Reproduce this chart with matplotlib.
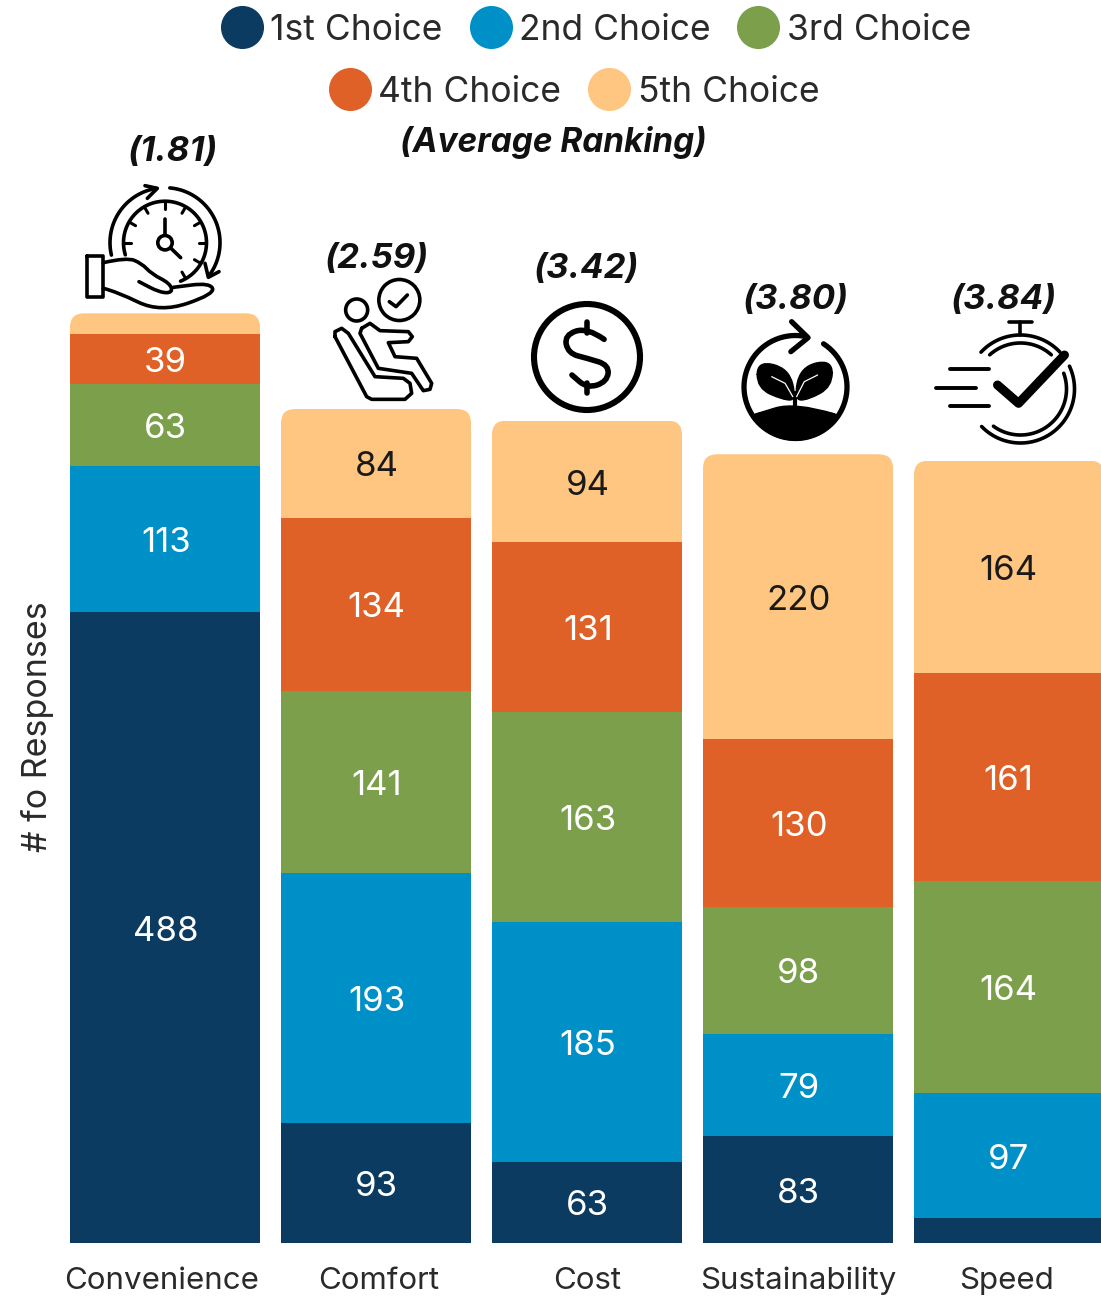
import numpy as np
import matplotlib
matplotlib.use("Agg")
import matplotlib.pyplot as plt
from matplotlib.lines import Line2D
from matplotlib.patches import Circle, FancyBboxPatch, PathPatch
from matplotlib.path import Path
from matplotlib.transforms import IdentityTransform, ScaledTranslation

plt.rcParams['font.family'] = ['Inter', 'DejaVu Sans']

categories = ['Convenience', 'Comfort', 'Cost', 'Sustainability', 'Speed']
choices = ['1st Choice', '2nd Choice', '3rd Choice', '4th Choice', '5th Choice']
first = [488, 93, 63, 83, 19]
second = [113, 193, 185, 79, 97]
third = [63, 141, 163, 98, 164]
fourth = [39, 134, 131, 130, 161]
fifth = [16, 84, 94, 220, 164]
rankings = ['(1.81)', '(2.59)', '(3.42)', '(3.80)', '(3.84)']

colors = ['#0B3B60', '#0090C8', '#7C9F4C', '#DF6128', '#FEC680']
W, H = 1101, 1299
UNIT = 1.293  # px per response
STEP = 211    # px between bars


def smooth(pts, closed=False):
    # quadratic spline through the midpoints, only for the icon outlines
    pts = np.array(pts, float)
    if closed:
        mids = (pts + np.roll(pts, -1, axis=0)) / 2
        verts = [mids[-1]]
        for p, m in zip(pts, mids):
            verts += [p, m]
    else:
        verts = [pts[0]]
        for i in range(1, len(pts) - 1):
            verts += [pts[i], (pts[i] + pts[i + 1]) / 2]
        verts += [pts[-1], pts[-1]]
    codes = [Path.MOVETO] + [Path.CURVE3] * (len(verts) - 1)
    return Path(verts, codes)


def z1(pts):
    return [(70 + x / 3, 120 + y / 3) for x, y in pts]


def z2(pts):
    return [(500 + x / 2.613, 240 + y / 3) for x, y in pts]


fig = plt.figure(figsize=(W / 100, H / 100), dpi=100)
ax = fig.add_axes([60 / W, (H - 1243) / H, (W - 60) / W, 1243 / H])
ax.set_xlim((60 - 165) / STEP, (W - 165) / STEP)
ax.set_ylim(0, 1243 / UNIT)
for s in ax.spines.values():
    s.set_visible(False)

x = np.arange(len(categories))
bottom = np.zeros(len(categories))
top_bars = None
for i, vals in enumerate([first, second, third, fourth, fifth]):
    bars = ax.bar(x, vals, bottom=bottom, width=190 / STEP, color=colors[i], linewidth=0)
    labels = [str(v) if v >= 30 else '' for v in vals]
    anns = ax.bar_label(bars, labels=labels, label_type='center', fontsize=25,
                        color='#1a1a1a' if i == 4 else 'white')
    for a in anns:
        a.xyann = (0.5, -3)
    bottom = bottom + np.array(vals)
    top_bars = bars

# round the top corners of each stack
fig.canvas.draw()
for b, total in zip(top_bars, bottom):
    x0, y1 = ax.transData.transform((b.get_x(), total))
    x1, y0 = ax.transData.transform((b.get_x() + b.get_width(), total - b.get_height()))
    clip = FancyBboxPatch((x0 + 14, y0 - 40), x1 - x0 - 28, y1 - y0 + 40 - 14,
                          boxstyle='round,pad=14,rounding_size=14',
                          transform=IdentityTransform())
    b.set_clip_path(clip)

ax.set_xticks(x)
ax.set_xticklabels(categories, fontsize=22.5, color='#2a2a2a')
ax.tick_params(axis='x', length=0, pad=17)
ax.tick_params(axis='y', length=0, labelleft=False)
for lab, dx in zip(ax.get_xticklabels(), [-3, 3, 0, 0, -2]):
    lab.set_transform(lab.get_transform() + ScaledTranslation(dx / 100, 0, fig.dpi_scale_trans))
ax.set_ylabel('# fo Responses', fontsize=24.5, color='#2a2a2a')
ax.yaxis.set_label_coords((54 - 60) / (W - 60), (1243 - 727) / 1243)

# legend, two centred rows
handles = [Line2D([], [], marker='o', linestyle='none', markersize=31, color=c, markeredgewidth=0)
           for c in colors]
leg_kw = dict(frameon=False, labelcolor='#2a2a2a', handlelength=1.2, handletextpad=0.2,
              columnspacing=0.75, borderpad=0, borderaxespad=0, loc='center',
              bbox_transform=fig.transFigure, prop={'size': 25.5})
leg1 = ax.legend(handles[:3], choices[:3], ncol=3, bbox_to_anchor=(596 / W, 1 - 30 / H), **leg_kw)
ax.add_artist(leg1)
ax.legend(handles[3:], choices[3:], ncol=2, bbox_to_anchor=(574 / W, 1 - 92 / H), **leg_kw)

# overlay in pixel coordinates for the rankings and icons
ov = fig.add_axes([0, 0, 1, 1], facecolor='none')
ov.set_xlim(0, W)
ov.set_ylim(H, 0)
ov.axis('off')

rank_x = [173, 377, 587, 796, 1004]
rank_y = [152, 259, 269, 300, 300]
for r, rx, ry in zip(rankings, rank_x, rank_y):
    ov.text(rx, ry, r, ha='center', va='center', fontsize=25, fontweight='bold', fontstyle='italic',
            color='#111111')
ov.text(553, 142, '(Average Ranking)', ha='center', va='center', fontsize=24, fontweight='bold',
        fontstyle='italic', color='#111111')


def line(pts, lw=2.6, color='black'):
    pts = np.array(pts)
    ov.plot(pts[:, 0], pts[:, 1], color=color, lw=lw, solid_capstyle='round', solid_joinstyle='round')


def arc(cx, cy, r, a1, a2, lw=2.6):
    t = np.radians(np.linspace(a1, a2, 80))
    line(np.c_[cx + r * np.cos(t), cy - r * np.sin(t)], lw)


def curve(pts, lw=2.6, closed=False, fill='none', ec='black'):
    ov.add_patch(PathPatch(smooth(pts, closed), fc=fill, ec=ec, lw=lw, capstyle='round', joinstyle='round'))


# clock in a hand
cx, cy = 165, 242.7
arc(cx, cy, 41.5, 197, -68)
arc(cx, cy, 55, 193, 99)
arc(cx, cy, 55, 85, -37)
line(z1([(225, 197), (262, 205), (232, 235)]))
line(z1([(405, 430), (415, 472), (447, 455)]))
for a in [180, 150, 120, 90, 60, 30, 0, -30, -60]:
    t = np.radians(a)
    line([(cx + 41 * np.cos(t), cy - 41 * np.sin(t)), (cx + 34 * np.cos(t), cy - 34 * np.sin(t))], 2.2)
line(z1([(285, 298), (285, 345)]))
line(z1([(303, 385), (332, 413)]))
ov.add_patch(Circle((cx, cy), 7.2, fc='none', ec='black', lw=2.6))
line(z1([(52, 408), (100, 408), (100, 530), (52, 530), (52, 408)]))
curve(z1([(100, 428), (170, 412), (215, 430), (245, 462), (300, 490), (308, 518), (270, 518), (207, 485)]))
curve(z1([(100, 505), (140, 515), (270, 578), (435, 522), (420, 488), (310, 502)]))

# seat
ov.add_patch(Circle(z1([(860, 570)])[0], 11, fc='none', ec='black', lw=2.6))
ov.add_patch(Circle(z1([(988, 540)])[0], 20.5, fc='none', ec='black', lw=2.6))
line(z1([(958, 545), (978, 560), (1012, 525)]))
line(z1([(795, 650), (890, 830), (905, 838), (1005, 838), (1025, 820), (1020, 790), (1000, 775),
         (915, 770), (835, 640), (815, 625), (795, 635), (795, 650)]))
line(z1([(875, 625), (900, 610), (930, 632), (1015, 635), (1027, 650), (1015, 665), (955, 668),
         (975, 710), (1040, 715), (1085, 790), (1080, 808), (1060, 812), (1025, 760), (925, 745),
         (870, 640), (875, 625)]))

# dollar
ov.add_patch(Circle((587, 357), 53, fc='none', ec='black', lw=4.4))
curve(z2([(272, 298), (228, 262), (168, 285), (178, 340), (228, 355), (285, 375), (280, 425), (228, 445), (188, 405)]), lw=4)
line(z2([(228, 245), (228, 280)]), 4)
line(z2([(228, 430), (228, 460)]), 4)

# sprout
sx, sy = 795.5, 387
arc(sx, sy, 51.5, 57, -282, 3.8)
line(z2([(762, 245), (805, 293), (760, 335)]), 3.8)
t = np.radians(np.linspace(-145, -35, 40))
soil = np.c_[sx + 53 * np.cos(t), sy - 53 * np.sin(t)]
curve_pts = z2([(875, 522), (770, 500), (668, 522)])
ov.add_patch(PathPatch(Path(np.vstack([soil, curve_pts, soil[:1]]), closed=True), fc='black', ec='black', lw=1))
ov.add_patch(PathPatch(smooth(z2([(875, 522), (770, 486), (668, 522)])), fc='black', ec='black', lw=1))
curve(z2([(672, 362), (755, 385), (775, 480), (740, 480), (672, 445)]), lw=1, closed=True, fill='black')
curve(z2([(868, 358), (785, 380), (768, 480), (805, 480), (868, 440)]), lw=1, closed=True, fill='black')
line(z2([(770, 460), (770, 505)]), 3)
line(z2([(710, 410), (745, 430), (765, 470)]), 0.9, 'white')
line(z2([(830, 405), (795, 425), (775, 470)]), 0.9, 'white')

# stopwatch
wx, wy = 1020.5, 389
line(z2([(1330, 245), (1390, 245)]), 2.6)
line(z2([(1360, 245), (1360, 285)]), 2.6)
arc(wx, wy, 54, 137, 43)
arc(wx, wy, 46, 132, 48)
arc(wx, wy, 54, 25, -136)
arc(wx, wy, 46, 20, -126)
line(z2([(1300, 435), (1355, 490), (1475, 345)]), 6.5)
line(z2([(1175, 388), (1278, 388)]), 2.8)
line(z2([(1140, 445), (1245, 445)]), 2.8)
line(z2([(1175, 498), (1278, 498)]), 2.8)

fig.savefig('out.png', dpi=100)
